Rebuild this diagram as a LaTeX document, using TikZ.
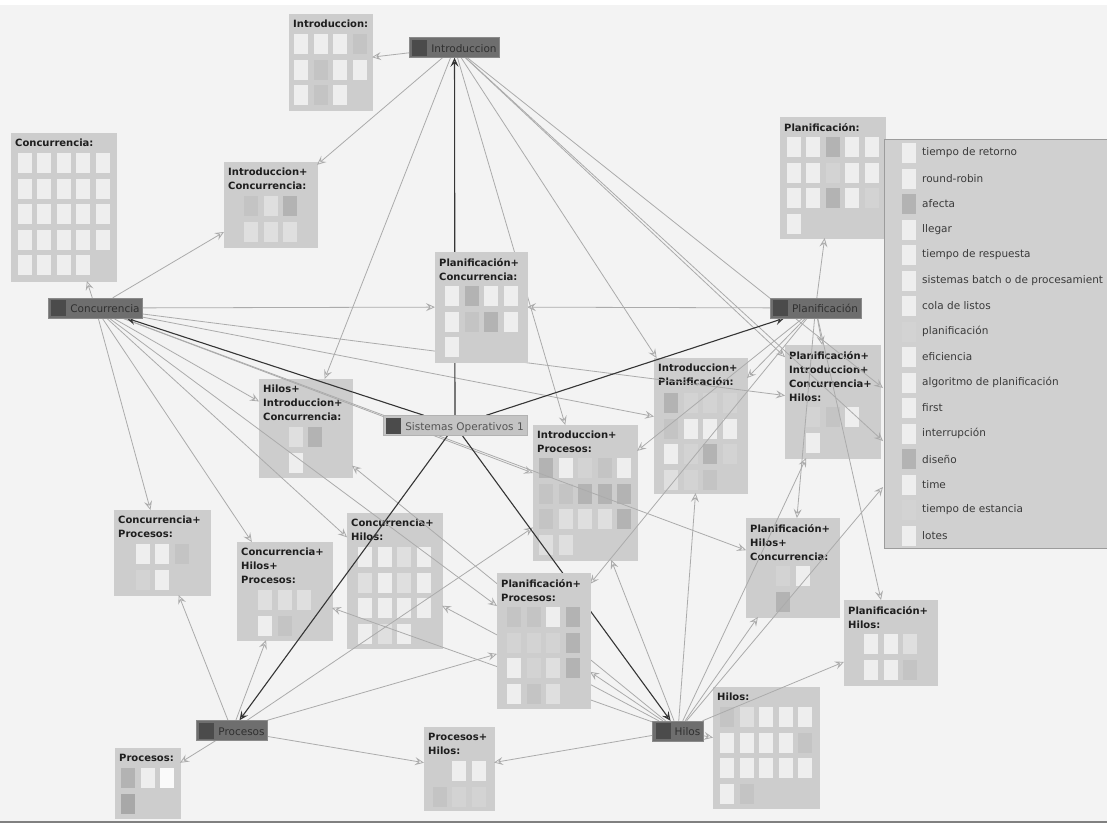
\documentclass[tikz,border=0pt]{standalone}
\usepackage{fontspec}
\setmainfont{DejaVu Sans}
\usetikzlibrary{arrows.meta}

\definecolor{bgc}{HTML}{F3F3F3}
\definecolor{boxc}{HTML}{CDCDCD}
\definecolor{titlec}{HTML}{1E1E1E}
\definecolor{ce}{HTML}{EEEEEE}
\definecolor{cl}{HTML}{DFDFDF}
\definecolor{cn}{HTML}{D3D3D3}
\definecolor{cg}{HTML}{C4C4C4}
\definecolor{cG}{HTML}{B3B3B3}
\definecolor{cD}{HTML}{A8A8A8}
\definecolor{cw}{HTML}{FAFAFA}
\definecolor{conceptc}{HTML}{6E6E6E}
\definecolor{conceptb}{HTML}{8A8A8A}
\definecolor{concepttext}{HTML}{303030}
\definecolor{iconc}{HTML}{4B4B4B}
\definecolor{rootc}{HTML}{C4C4C4}
\definecolor{rootb}{HTML}{B2B2B2}
\definecolor{roottext}{HTML}{555555}
\definecolor{linkc}{HTML}{ABABAB}
\definecolor{rootlinkc}{HTML}{353535}
\definecolor{legc}{HTML}{D0D0D0}
\definecolor{legb}{HTML}{9C9C9C}
\definecolor{legtext}{HTML}{3A3A3A}

\pgfdeclarelayer{backlayer}
\pgfdeclarelayer{boxlayer}
\pgfdeclarelayer{edgelayer}
\pgfsetlayers{backlayer,boxlayer,edgelayer,main}

\tikzset{
  cluster/.style={fill=boxc, draw=boxc, inner sep=0pt, outer sep=0pt},
  clustertitle/.style={font=\bfseries\fontsize{10}{14}\selectfont, align=left,
    inner sep=0pt, text=titlec, anchor=north west},
  concept/.style={fill=conceptc, draw=conceptb, text=concepttext, inner xsep=3pt,
    inner ysep=2pt, minimum height=20pt, font=\fontsize{10.5}{12}\selectfont},
  rootnode/.style={concept, fill=rootc, draw=rootb, text=roottext},
  link/.style={draw=linkc, line width=0.8pt,
    -{Stealth[open,length=9pt,width=8pt,inset=3.5pt]}},
  rootlink/.style={draw=rootlinkc, line width=1.1pt,
    -{Stealth[open,length=9pt,width=8pt,inset=3.5pt]}},
  legendbox/.style={fill=legc, draw=legb, inner sep=0pt, outer sep=0pt},
  legendtext/.style={font=\fontsize{10.5}{12}\selectfont, text=legtext,
    anchor=west, inner sep=0pt}
}

\newcommand{\clusterbox}[6]{%
  \node[cluster, minimum width=#4pt, minimum height=#5pt, anchor=north west] (#1) at (#2,#3) {};
  \node[clustertitle] (#1-t) at (#2+4,#3+6) {#6};}
\newcommand{\cellgrid}[3]{%
  \foreach \c/\r/\k in {#3} \fill[fill=c\k] (#1+\c*19.5,#2+\r*25.5) rectangle ++(14,20);}
\newcommand{\conceptmark}{{\color{iconc}\rule[-3.5pt]{15pt}{16pt}}\hspace{4pt}}

\begin{document}
\begin{tikzpicture}[x=1pt,y=-1pt]
\useasboundingbox (0,0) rectangle (1107,825);
\begin{pgfonlayer}{backlayer}
\fill[white] (0,0) rectangle (1107,825);
\fill[bgc] (0,5) rectangle (1107,822);
\draw[gray, line width=1.5pt] (0,822) -- (1107,822);
\end{pgfonlayer}

\begin{pgfonlayer}{boxlayer}
\clusterbox{bIntro}{289}{14}{83}{96}{Introduccion:}
\cellgrid{294}{34}{0/0/e,1/0/e,2/0/e,3/0/g,0/1/e,1/1/g,2/1/e,3/1/e,0/2/e,1/2/g,2/2/e}
\clusterbox{bConc}{11}{133}{105}{148}{Concurrencia:}
\cellgrid{17.5}{153}{0/0/e,1/0/e,2/0/e,3/0/e,4/0/e,0/1/e,1/1/e,2/1/e,3/1/e,4/1/e,0/2/e,1/2/e,2/2/e,3/2/e,4/2/e,0/3/e,1/3/e,2/3/e,3/3/e,4/3/e,0/4/e,1/4/e,2/4/e,3/4/e}
\clusterbox{bIC}{224}{162}{93}{85}{Introduccion+\\Concurrencia:}
\cellgrid{244}{196}{0/0/g,1/0/l,2/0/G,0/1/l,1/1/l,2/1/l}
\clusterbox{bPlan}{780}{117}{105}{121}{Planificación:}
\cellgrid{786.5}{137}{0/0/e,1/0/e,2/0/G,3/0/e,4/0/e,0/1/e,1/1/e,2/1/n,3/1/e,4/1/e,0/2/e,1/2/e,2/2/G,3/2/e,4/2/n,0/3/e}
\clusterbox{bHIC}{259}{379}{93}{98}{Hilos+\\Introduccion+\\Concurrencia:}
\cellgrid{288.5}{427}{0/0/l,1/0/G,0/1/e}
\clusterbox{bIProc}{533}{425}{104}{135}{Introduccion+\\Procesos:}
\cellgrid{539}{458}{0/0/G,1/0/e,2/0/n,3/0/g,4/0/e,0/1/g,1/1/g,2/1/G,3/1/G,4/1/G,0/2/g,1/2/l,2/2/l,3/2/l,4/2/G,0/3/l,1/3/l}
\clusterbox{bIP}{654}{358}{93}{135}{Introduccion+\\Planificación:}
\cellgrid{664}{393}{0/0/G,1/0/n,2/0/n,3/0/n,0/1/g,1/1/e,2/1/e,3/1/e,0/2/e,1/2/n,2/2/G,3/2/n,0/3/l,1/3/n,2/3/g}
\clusterbox{bPICH}{785}{345}{95}{113}{Planificación+\\Introduccion+\\Concurrencia+\\Hilos:}
\cellgrid{806}{407}{0/0/n,1/0/g,2/0/e,0/1/e}
\clusterbox{bCProc}{114}{510}{96}{85}{Concurrencia+\\Procesos:}
\cellgrid{135.5}{544}{0/0/e,1/0/e,2/0/g,0/1/n,1/1/e}
\clusterbox{bCHProc}{237}{542}{95}{98}{Concurrencia+\\Hilos+\\Procesos:}
\cellgrid{258}{590}{0/0/l,1/0/l,2/0/l,0/1/e,1/1/g}
\clusterbox{bCH}{347}{513}{95}{135}{Concurrencia+\\Hilos:}
\cellgrid{358}{547}{0/0/e,1/0/e,2/0/l,3/0/e,0/1/l,1/1/e,2/1/l,3/1/e,0/2/e,1/2/e,2/2/e,3/2/e,0/3/e,1/3/l,2/3/e}
\clusterbox{bPHC}{746}{518}{93}{99}{Planificación+\\Hilos+\\Concurrencia:}
\cellgrid{776}{566}{0/0/n,1/0/e,0/1/G}
\clusterbox{bPH}{844}{600}{93}{85}{Planificación+\\Hilos:}
\cellgrid{864}{634}{0/0/e,1/0/e,2/0/l,0/1/e,1/1/e,2/1/g}
\clusterbox{bHilos}{713}{687}{106}{121}{Hilos:}
\cellgrid{720}{707}{0/0/g,1/0/l,2/0/e,3/0/e,4/0/e,0/1/e,1/1/e,2/1/e,3/1/e,4/1/g,0/2/e,1/2/e,2/2/e,3/2/e,4/2/e,0/3/e,1/3/g}
\clusterbox{bProc}{115}{748}{65}{70}{Procesos:}
\cellgrid{121}{768}{0/0/G,1/0/e,2/0/w,0/1/D}
\clusterbox{bProcH}{424}{727}{70}{83}{Procesos+\\Hilos:}
\cellgrid{432.5}{761}{1/0/e,2/0/e,0/1/g,1/1/n,2/1/n}
\end{pgfonlayer}

\clusterbox{bPC}{435}{252}{92}{110}{Planificación+\\Concurrencia:}
\cellgrid{445}{286}{0/0/e,1/0/G,2/0/e,3/0/e,0/1/e,1/1/g,2/1/G,3/1/e,0/2/e}
\clusterbox{bPProc}{497}{573}{93}{135}{Planificación+\\Procesos:}
\cellgrid{507}{607}{0/0/g,1/0/g,2/0/e,3/0/G,0/1/n,1/1/n,2/1/n,3/1/G,0/2/e,1/2/n,2/2/l,3/2/G,0/3/e,1/3/g,2/3/l}

\node[concept] (intro) at (454.5,47.5) {\conceptmark Introduccion};
\node[concept] (conc) at (95.5,308) {\conceptmark Concurrencia};
\node[concept] (plan) at (815.5,308) {\conceptmark Planificación};
\node[rootnode] (so) at (455,425.5) {\conceptmark Sistemas Operativos 1};
\node[concept] (proc) at (232,730.5) {\conceptmark Procesos};
\node[concept] (hilos) at (678,731) {\conceptmark Hilos};

\node[legendbox, minimum width=240pt, minimum height=409pt, anchor=north west] (legend) at (884,139) {};
\foreach \k/\t [count=\i from 0] in {e/tiempo de retorno, e/round-robin, G/afecta, e/llegar,
    e/tiempo de respuesta, e/sistemas batch o de procesamient, e/cola de listos,
    n/planificación, e/eficiencia, e/algoritmo de planificación, e/first,
    e/interrupción, G/diseño, e/time, n/tiempo de estancia, e/lotes} {
  \fill[fill=c\k] (902,143+\i*25.5) rectangle ++(14,20);
  \node[legendtext] (leg\i) at (922,153+\i*25.5) {\t};
}

\coordinate (hidA) at (883,388);
\coordinate (hidB) at (883,441);
\coordinate (hidC) at (883,487);

\begin{pgfonlayer}{edgelayer}
\foreach \b in {bIntro,bIC,bHIC,bIProc,bIP,bPICH,hidA,hidB}
  \draw[link] (intro) to (\b);
\foreach \b in {bConc,bIC,bPC,bIP,bPICH,bIProc,bHIC,bCProc,bCHProc,bCH,bPProc,bPHC}
  \draw[link] (conc) to (\b);
\foreach \b in {bPlan,bPC,bIP,bPICH,bIProc,bPProc,bPHC,bPH}
  \draw[link] (plan) to (\b);
\foreach \b in {bProc,bCProc,bCHProc,bIProc,bPProc,bProcH}
  \draw[link] (proc) to (\b);
\foreach \b in {bHilos,bProcH,bPH,bPHC,bPICH,bIP,bIProc,bPProc,bCH,bCHProc,bHIC,hidC}
  \draw[link] (hilos) to (\b);
\foreach \b in {intro,conc,plan,proc,hilos}
  \draw[rootlink] (so) to (\b);
\end{pgfonlayer}
\end{tikzpicture}
\end{document}
